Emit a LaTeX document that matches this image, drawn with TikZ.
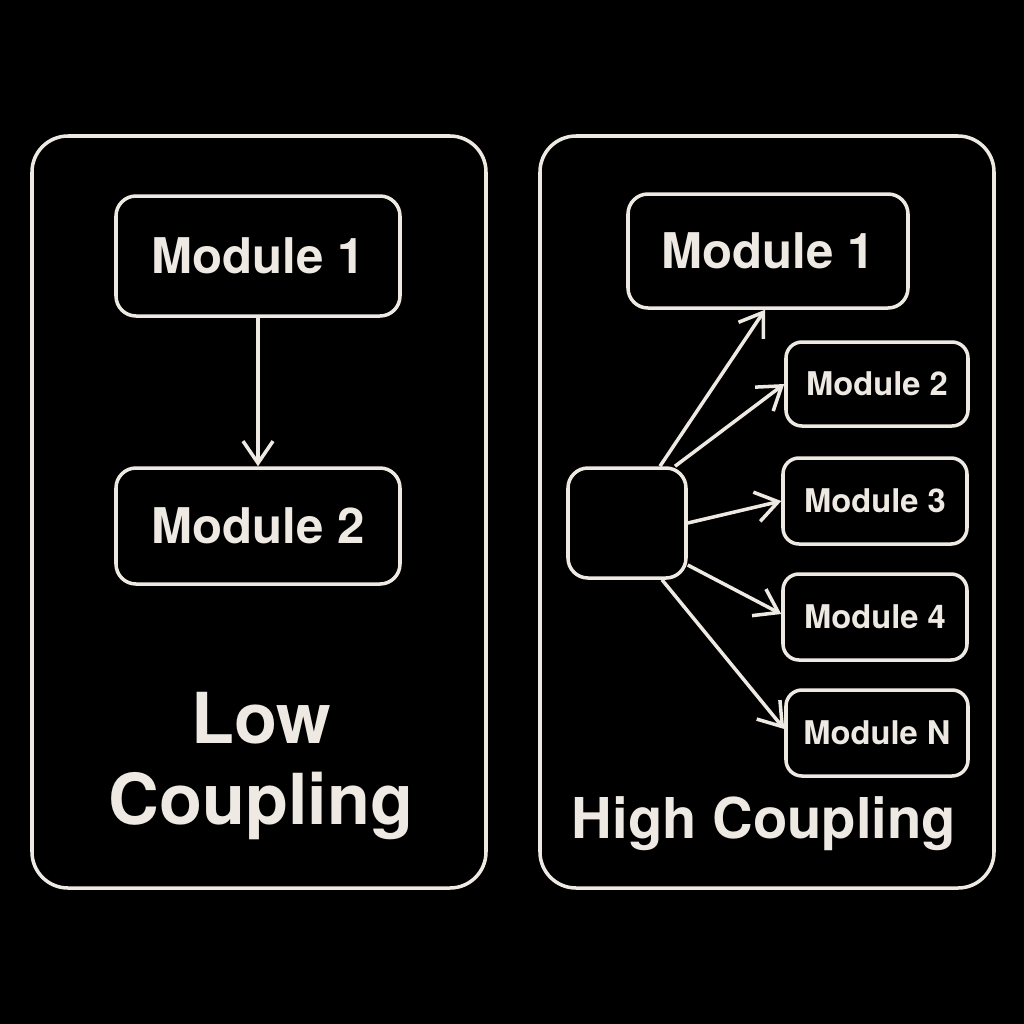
\documentclass[tikz,border=0pt]{standalone}
\usepackage{fontspec}
\setmainfont{TeX Gyre Heros}
\usepackage{tikz}
\usetikzlibrary{arrows.meta, positioning}
\definecolor{chalk}{RGB}{238,233,226}
\tikzstyle{arrow} = [line width=1pt, chalk, -{Straight Barb[length=0.22cm, width=0.3cm]}]

\begin{document}
\begin{tikzpicture}[
    panel/.style={rectangle, draw=chalk, line width=1pt, rounded corners=0.36cm, minimum width=4.54cm, minimum height=7.52cm},
    module/.style={rectangle, draw=chalk, line width=1pt, rounded corners=0.2cm, text=chalk, font=\bfseries\fontsize{14}{16}\selectfont},
    small/.style={module, rounded corners=0.16cm, minimum width=1.84cm, minimum height=0.86cm, font=\bfseries\fontsize{9.3}{11}\selectfont},
    caption/.style={text=chalk, font=\bfseries, align=center},
]
\fill[black] (0,0) rectangle (10.24,-10.24);
\useasboundingbox (0,0) rectangle (10.24,-10.24);

% Low coupling (left)
\node[panel] (lowpanel) at (2.59,-5.12) {};
\node[module, minimum width=2.84cm, minimum height=1.2cm] (lm1) at (2.58,-2.56) {Module 1};
\node[module, minimum width=2.84cm, minimum height=1.16cm] (lm2) at (2.58,-5.26) {Module 2};
\draw[arrow] (lm1.south) -- (lm2.north);
\node[caption, font=\bfseries\fontsize{20}{22}\selectfont] (lowtext) at (2.61,-7.66) {Low\\[0.04cm]Coupling};

% High coupling (right)
\node[panel] (highpanel) at (7.67,-5.12) {};
\node[module, minimum width=2.8cm, minimum height=1.14cm] (rm1) at (7.68,-2.51) {Module 1};
\node[module, minimum width=1.18cm, minimum height=1.1cm] (hub) at (6.27,-5.23) {};
\node[small, minimum width=1.82cm, minimum height=0.84cm] (rm2) at (8.77,-3.84) {Module 2};
\node[small] (rm3) at (8.75,-5.01) {Module 3};
\node[small] (rm4) at (8.75,-6.17) {Module 4};
\node[small, minimum width=1.82cm] (rmN) at (8.77,-7.33) {Module N};

% Arrows - hub to every module
\draw[arrow] ([xshift=0.33cm]hub.north) -- ([xshift=-0.03cm]rm1.south);
\draw[arrow] ([xshift=0.48cm]hub.north) -- (rm2.west);
\draw[arrow] (hub.east) -- (rm3.west);
\draw[arrow] ([yshift=-0.42cm]hub.east) -- ([yshift=0.03cm]rm4.west);
\draw[arrow] ([xshift=0.35cm]hub.south) -- ([yshift=0.04cm]rmN.west);
\node[caption, font=\bfseries\fontsize{16}{18}\selectfont] (hightext) at (7.64,-8.24) {High Coupling};

\end{tikzpicture}
\end{document}
